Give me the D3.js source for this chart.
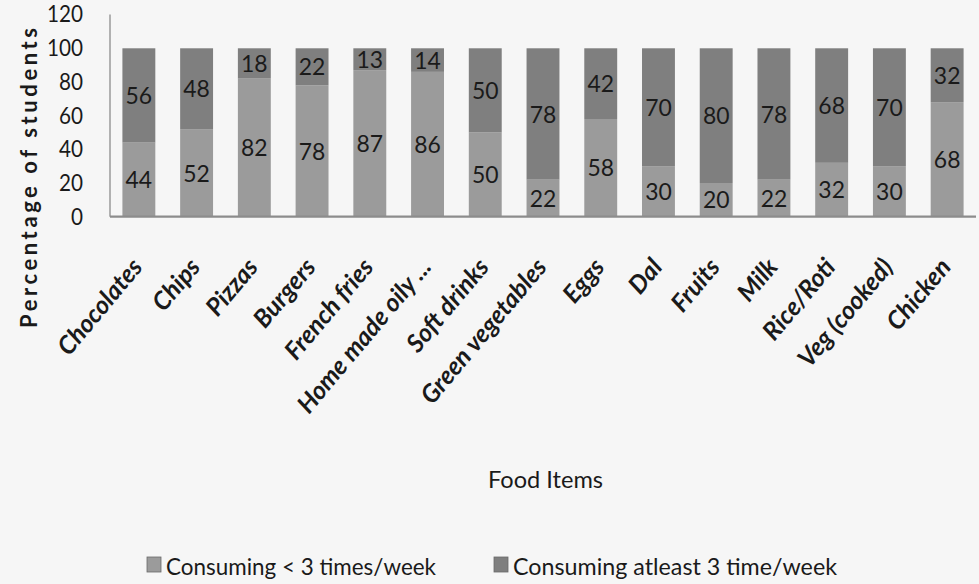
<!DOCTYPE html>
<html>
<head>
<meta charset="utf-8">
<script src="https://cdn.jsdelivr.net/npm/d3@7"></script>
<style>
  html, body { margin: 0; padding: 0; background: #f6f6f6; }
  svg { display: block; }
  text { font-family: Lato, "Open Sans", sans-serif; fill: #1a1a1a; }
</style>
</head>
<body>
<svg id="chart" width="979" height="584"></svg>
<script>
// ---- data ----
const categories = ["Chocolates", "Chips", "Pizzas", "Burgers", "French fries", "Home made oily ...",
  "Soft drinks", "Green vegetables", "Eggs", "Dal", "Fruits", "Milk", "Rice/Roti", "Veg (cooked)", "Chicken"];
const lessThan3 = [44, 52, 82, 78, 87, 86, 50, 22, 58, 30, 20, 22, 32, 30, 68];
const atleast3  = [56, 48, 18, 22, 13, 14, 50, 78, 42, 70, 80, 78, 68, 70, 32];
const seriesNames = ["Consuming < 3 times/week", "Consuming atleast 3 time/week"];
const yTicks = [0, 20, 40, 60, 80, 100, 120];
const yTitle = "Percentage of students";
const xTitle = "Food Items";

// ---- layout ----
const svg = d3.select("#chart");
const plot = { left: 110, right: 976, top: 14.6, bottom: 216.7 };
const colors = ["#9b9b9b", "#7f7f7f"];

const x = d3.scaleBand().domain(categories).range([plot.left, plot.right])
  .paddingInner(0.43).paddingOuter(0.215);
const y = d3.scaleLinear().domain([0, 120]).range([plot.bottom, plot.top]);

const rows = categories.map((c, i) => ({ cat: c, a: lessThan3[i], b: atleast3[i] }));
const stack = d3.stack().keys(["a", "b"])(rows);

// vertical axis line
svg.append("line").attr("x1", plot.left).attr("x2", plot.left)
  .attr("y1", y(120)).attr("y2", plot.bottom)
  .attr("stroke", "#9a9a9a").attr("stroke-width", 1.5);

// bars
const layers = svg.selectAll("g.layer").data(stack).join("g")
  .attr("class", "layer").attr("fill", (d, i) => colors[i]);
layers.selectAll("rect").data(d => d).join("rect")
  .attr("x", d => x(d.data.cat))
  .attr("width", x.bandwidth())
  .attr("y", d => y(d[1]))
  .attr("height", d => y(d[0]) - y(d[1]));

// bar value labels
layers.selectAll("text").data((d) => d.map(v => ({ v, key: d.key }))).join("text")
  .attr("x", d => x(d.v.data.cat) + x.bandwidth() / 2)
  .attr("y", d => y((d.v[0] + d.v[1]) / 2))
  .attr("dy", "0.36em")
  .attr("text-anchor", "middle")
  .style("font-size", "24px")
  .text(d => d.v[1] - d.v[0])
  .attr("textLength", d => String(d.v[1] - d.v[0]).length * 13.3)
  .attr("lengthAdjust", "spacingAndGlyphs");

// horizontal axis line
svg.append("line").attr("x1", plot.left).attr("x2", plot.right)
  .attr("y1", plot.bottom).attr("y2", plot.bottom)
  .attr("stroke", "#8c8c8c").attr("stroke-width", 2.2);

// y axis ticks
const yAxis = d3.axisLeft(y).tickValues(yTicks).tickSize(0).tickPadding(27);
const gy = svg.append("g").attr("transform", `translate(${plot.left},0)`).call(yAxis);
gy.select(".domain").remove();
gy.selectAll("text")
  .style("font-size", "23px").style("font-family", "Lato, sans-serif").attr("fill", "#1a1a1a")
  .attr("textLength", d => String(d).length * 12).attr("lengthAdjust", "spacingAndGlyphs");

// x axis labels
const xAxis = d3.axisBottom(x).tickSize(0).tickPadding(0);
const gx = svg.append("g").attr("transform", `translate(0,${plot.bottom})`).call(xAxis);
gx.select(".domain").remove();
gx.selectAll("text")
  .attr("y", 0).attr("dy", 0)
  .attr("text-anchor", "end")
  .attr("transform", "translate(5,51) rotate(-50)")
  .style("font-size", "25px").style("font-weight", "bold").style("font-style", "italic")
  .style("font-family", "Lato, sans-serif").attr("fill", "#1a1a1a");

// y title
svg.append("text")
  .attr("transform", "translate(37,178) rotate(-90)")
  .attr("text-anchor", "middle")
  .attr("textLength", 300).attr("lengthAdjust", "spacing")
  .style("font-size", "22px").style("font-weight", "bold")
  .text(yTitle);

// x title
svg.append("text")
  .attr("x", 545.5).attr("y", 488)
  .attr("text-anchor", "middle")
  .style("font-size", "24px")
  .attr("textLength", 115).attr("lengthAdjust", "spacingAndGlyphs")
  .text(xTitle);

// legend
const legendX = [147, 494];
const legendTextLen = [270, 324];
const lg = svg.selectAll("g.legend").data(seriesNames).join("g")
  .attr("class", "legend")
  .attr("transform", (d, i) => `translate(${legendX[i]},0)`);
lg.append("rect").attr("x", 0).attr("y", 557).attr("width", 14).attr("height", 15)
  .attr("fill", (d, i) => colors[i]).attr("stroke", "#6a6a6a").attr("stroke-width", 0.8);
lg.append("text").attr("x", 19).attr("y", 575)
  .attr("textLength", (d, i) => legendTextLen[i]).attr("lengthAdjust", "spacingAndGlyphs")
  .style("font-size", "24px")
  .text(d => d);
</script>
</body>
</html>
